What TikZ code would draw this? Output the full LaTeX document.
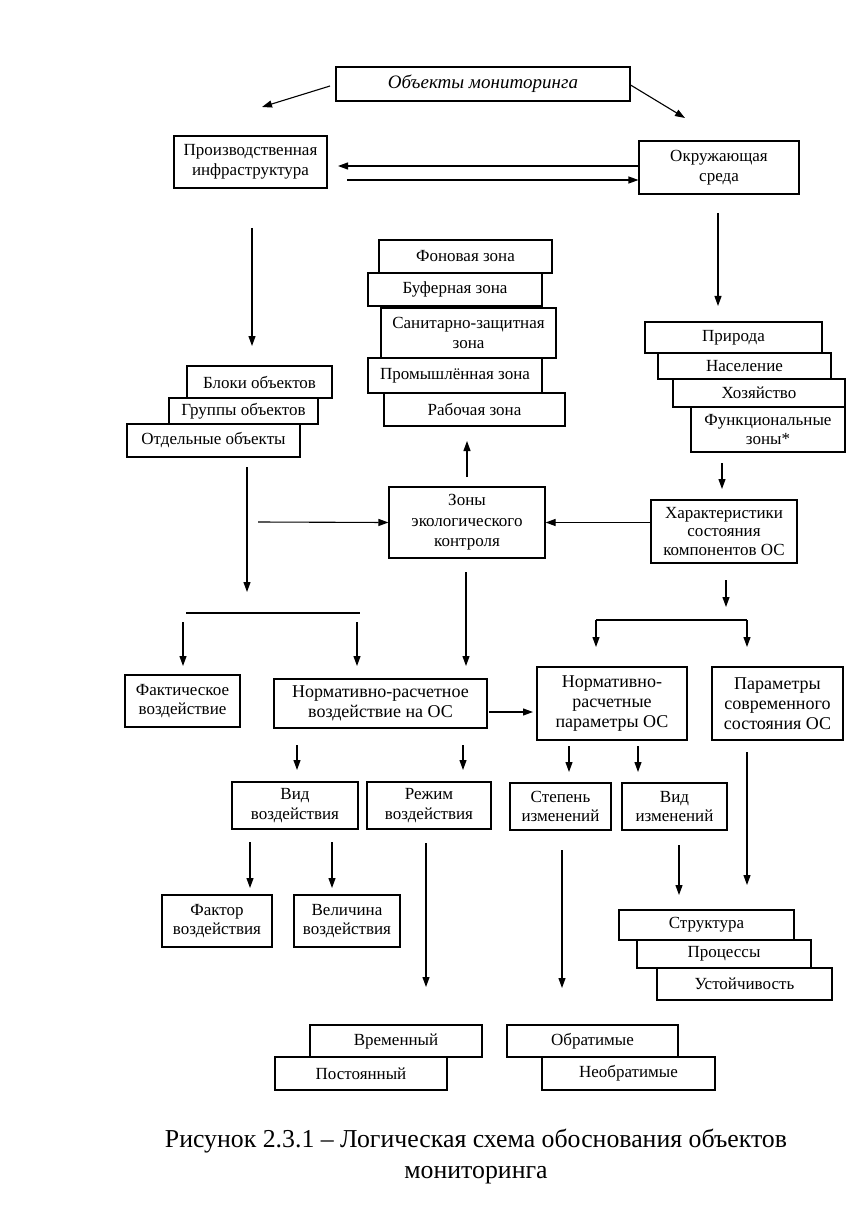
\documentclass[tikz,border=0pt]{standalone}
\usepackage{fontspec}
\setmainfont{Liberation Serif}
\usetikzlibrary{arrows.meta}
\begin{document}
\begin{tikzpicture}[x=1pt,y=-1pt,
  box/.style={draw,line width=1.1pt,fill=white,inner sep=1pt,align=center,font=\fontsize{17}{19.5}\selectfont},
  big/.style={font=\fontsize{18}{20}\selectfont},
  wh/.style 2 args={minimum width=#1pt,minimum height=#2pt},
  arr/.style={line width=1.1pt,-{Triangle[length=10pt,width=7pt]}},
  ln/.style={line width=1.1pt}]
\useasboundingbox (0,0) rectangle (846,1214);
% top
\node[box,wh={294}{34},font=\fontsize{19}{21}\selectfont\itshape] (obj) at (483,84) {Объекты мониторинга};
\node[box,wh={153}{52}] (prod) at (250.5,162) {Производственная\\инфраструктура};
\node[box,wh={160}{53}] (env) at (719,167.5) {Окружающая\\среда};
% left stack
\node[box,wh={145}{32}] (bl) at (259.5,382) {Блоки объектов};
\node[box,wh={149}{26}] (gr) at (243.5,411) {Группы объектов};
\node[box,wh={173}{33}] (ot) at (213.5,440.5) {Отдельные объекты};
% zones stack
\node[box,wh={173}{33}] (fon) at (465.5,256.5) {Фоновая зона};
\node[box,wh={174}{33}] (buf) at (455,289.5) {Буферная зона};
\node[box,wh={175}{50}] (san) at (468.5,333) {Санитарно-защитная\\зона};
\node[box,wh={174}{35}] (prom) at (455,375.5) {Промышлённая зона};
\node[box,wh={181}{33}] (rab) at (474.5,409.5) {Рабочая зона};
% right stack
\node[box,wh={177}{31}] (pri) at (733.5,337.5) {Природа};
\node[box,wh={173}{26}] (nas) at (744.5,366) {Население};
\node[box,wh={172}{28}] (hoz) at (759,393) {Хозяйство};
\node[box,wh={154}{45}] (fun) at (768,429.5) {Функциональные\\зоны*};
% middle
\node[box,wh={146}{63},font=\fontsize{17}{18.5}\selectfont] (chr) at (724,531.5) {Характеристики\\состояния\\компонентов ОС};
\node[box,wh={156}{71},font=\fontsize{17}{20.5}\selectfont] (zon) at (467,522.5) {Зоны\\экологического\\контроля};
% row 1
\node[box,wh={115}{52}] (fact) at (182.5,701) {Фактическое\\воздействие};
\node[box,big,wh={213}{49}] (norm) at (380.5,703.5) {Нормативно-расчетное\\воздействие на ОС};
\node[box,big,wh={150}{73}] (normp) at (612,703.5) {Нормативно-\\расчетные\\параметры ОС};
\node[box,big,wh={131}{73}] (par) at (777.5,703.5) {Параметры\\современного\\состояния ОС};
% row 2
\node[box,wh={126}{47}] (vid) at (295,805.5) {Вид\\воздействия};
\node[box,wh={124}{47}] (rez) at (429,805.5) {Режим\\воздействия};
\node[box,wh={101}{47}] (stp) at (560.5,806.5) {Степень\\изменений};
\node[box,wh={105}{47}] (vidiz) at (674.5,806.5) {Вид\\изменений};
% row 3
\node[box,wh={110}{52}] (fak) at (217,921) {Фактор\\воздействия};
\node[box,wh={106}{52}] (vel) at (347,921) {Величина\\воздействия};
\node[box,wh={175}{30}] (str) at (706.5,925) {Структура};
\node[box,wh={174}{28}] (pro) at (724,954) {Процессы};
\node[box,wh={175}{32}] (ust) at (744.5,984) {Устойчивость};
% bottom
\node[box,wh={172}{32}] (vre) at (396,1041) {Временный};
\node[box,wh={172}{33}] (pos) at (361,1073.5) {Постоянный};
\node[box,wh={171}{32}] (obr) at (592.5,1041) {Обратимые};
\node[box,wh={173}{33}] (neo) at (628.5,1073.5) {Необратимые};
% caption
\node[align=center,font=\fontsize{25.8}{31}\selectfont] (cap) at (476,1156) {Рисунок 2.3.1 – Логическая схема обоснования объектов\\мониторинга};

% connectors
\coordinate (a1s) at (330,86); \coordinate (a1e) at (262,107);
\draw[arr] (a1s) -- (a1e);
\coordinate (a2e) at (685,118);
\draw[arr] ([yshift=-1pt]obj.east) -- (a2e);
\coordinate (a3e) at (338,166);
\draw[arr] ([yshift=1.5pt]env.west) -- (a3e);
\coordinate (a4s) at (347,180);
\draw[arr] (a4s) -- ([yshift=-12.5pt]env.west);
\coordinate (a5s) at (252,228); \coordinate (a5e) at (252,346);
\draw[arr] (a5s) -- (a5e);
\coordinate (a6s) at (247,467); \coordinate (a6e) at (247,592);
\draw[arr] (a6s) -- (a6e);
\coordinate (a7s) at (258,522);
\draw[arr] (a7s) -- (zon.west);
\draw[arr] (chr.west |- zon.east) -- (zon.east);
\coordinate (a8s) at (467,477); \coordinate (a8e) at (467,441);
\draw[arr] (a8s) -- (a8e);
\coordinate (a9s) at (466,572); \coordinate (a9e) at (466,666);
\draw[arr] (a9s) -- (a9e);
\coordinate (a10s) at (718,213); \coordinate (a10e) at (718,306);
\draw[arr] (a10s) -- (a10e);
\coordinate (a11s) at (722,463); \coordinate (a11e) at (722,489);
\draw[arr] (a11s) -- (a11e);
\coordinate (a12s) at (726,580); \coordinate (a12e) at (726,607);
\draw[arr] (a12s) -- (a12e);
\coordinate (r1) at (596,620); \coordinate (r2) at (747,620);
\coordinate (r1e) at (596,647); \coordinate (r2e) at (747,647);
\draw[ln] (r1) -- (r2);
\draw[arr] (r1) -- (r1e);
\draw[arr] (r2) -- (r2e);
\coordinate (l1) at (186,613); \coordinate (l2) at (360,613);
\draw[ln] (l1) -- (l2);
\coordinate (l3s) at (183,622); \coordinate (l3e) at (183,666);
\coordinate (l4s) at (357,622); \coordinate (l4e) at (357,666);
\draw[arr] (l3s) -- (l3e);
\draw[arr] (l4s) -- (l4e);
\coordinate (a13s) at (489,712); \coordinate (a13e) at (533,712);
\draw[arr] (a13s) -- (a13e);
\coordinate (b1s) at (297,745); \coordinate (b1e) at (297,770);
\coordinate (b2s) at (463,745); \coordinate (b2e) at (463,770);
\coordinate (b3s) at (569,746); \coordinate (b3e) at (569,772);
\coordinate (b4s) at (638,746); \coordinate (b4e) at (638,772);
\draw[arr] (b1s) -- (b1e);
\draw[arr] (b2s) -- (b2e);
\draw[arr] (b3s) -- (b3e);
\draw[arr] (b4s) -- (b4e);
\coordinate (b5s) at (747,752); \coordinate (b5e) at (747,885);
\draw[arr] (b5s) -- (b5e);
\coordinate (c1s) at (250,842); \coordinate (c1e) at (250,888);
\coordinate (c2s) at (332,842); \coordinate (c2e) at (332,888);
\draw[arr] (c1s) -- (c1e);
\draw[arr] (c2s) -- (c2e);
\coordinate (c3s) at (426,843); \coordinate (c3e) at (426,987);
\draw[arr] (c3s) -- (c3e);
\coordinate (c4s) at (562,850); \coordinate (c4e) at (562,988);
\draw[arr] (c4s) -- (c4e);
\coordinate (c5s) at (679,845); \coordinate (c5e) at (679,895);
\draw[arr] (c5s) -- (c5e);
\end{tikzpicture}
\end{document}
